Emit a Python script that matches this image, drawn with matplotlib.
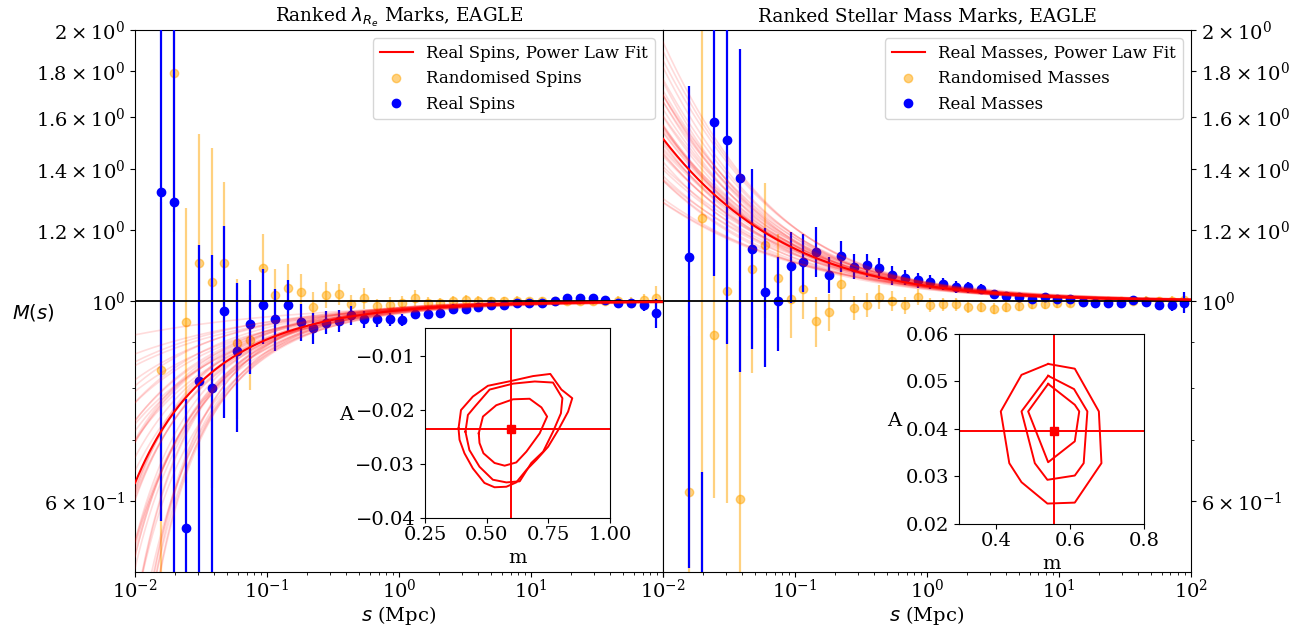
import numpy as np
import matplotlib

matplotlib.use("Agg")
import matplotlib.pyplot as plt
from matplotlib.lines import Line2D
from matplotlib.ticker import FixedLocator, NullFormatter

plt.rcParams["font.family"] = "serif"
plt.rcParams["font.serif"] = ["DejaVu Serif"]

# bin centres (Mpc)
s_bins = [0.01574, 0.01965, 0.02451, 0.03059, 0.03818, 0.04765, 0.05947, 0.07422,
          0.09262, 0.1156, 0.1443, 0.1800, 0.2247, 0.2804, 0.3499, 0.4367,
          0.5450, 0.6802, 0.8489, 1.059, 1.322, 1.650, 2.059, 2.570,
          3.207, 4.002, 4.995, 6.234, 7.780, 9.709, 12.12, 15.12,
          18.87, 23.55, 29.39, 36.68, 45.78, 57.13, 71.30, 88.98]

# ranked lambda_Re marks
spin_real = [1.320, 1.287, 0.559, 0.814, 0.800, 0.976, 0.881, 0.942,
             0.991, 0.956, 0.990, 0.947, 0.934, 0.946, 0.950, 0.964,
             0.954, 0.954, 0.954, 0.952, 0.968, 0.968, 0.971, 0.980,
             0.980, 0.985, 0.991, 0.991, 0.994, 0.994, 0.994, 0.999,
             1.007, 1.007, 1.007, 1.002, 0.996, 0.994, 0.989, 0.969]
spin_real_err = [0.75, 0.85, 0.22, 0.34, 0.325, 0.234, 0.165, 0.112,
                 0.095, 0.075, 0.064, 0.045, 0.037, 0.028, 0.027, 0.023,
                 0.020, 0.018, 0.016, 0.015, 0.014, 0.013, 0.012, 0.012,
                 0.011, 0.010, 0.010, 0.009, 0.009, 0.008, 0.008, 0.008,
                 0.008, 0.008, 0.008, 0.008, 0.009, 0.010, 0.014, 0.036]
spin_rand = [0.839, 1.792, 0.948, 1.102, 1.050, 1.102, 0.898, 0.906,
             1.089, 1.015, 1.033, 1.024, 0.985, 1.016, 1.017, 0.992,
             1.007, 0.987, 0.991, 0.996, 1.0085, 0.996, 0.994, 1.000,
             1.002, 1.000, 0.999, 1.000, 1.001, 0.999, 1.000, 1.001,
             1.000, 0.999, 1.000, 1.001, 1.000, 0.996, 1.002, 1.0085]
spin_rand_err = [0.45, 0.6, 0.32, 0.43, 0.43, 0.253, 0.159, 0.109,
                 0.098, 0.07, 0.066, 0.047, 0.038, 0.034, 0.027, 0.023,
                 0.028, 0.018, 0.02, 0.018, 0.02, 0.015, 0.015, 0.013,
                 0.013, 0.012, 0.012, 0.011, 0.011, 0.010, 0.010, 0.010,
                 0.010, 0.010, 0.011, 0.011, 0.012, 0.014, 0.016, 0.03]

# ranked stellar mass marks
mass_real = [1.120, 0.40, 1.580, 1.510, 1.370, 1.142, 1.024, 1.000,
             1.094, 1.105, 1.135, 1.069, 1.122, 1.092, 1.096, 1.087,
             1.068, 1.062, 1.055, 1.050, 1.045, 1.037, 1.036, 1.031,
             1.017, 1.013, 1.010, 1.004, 1.010, 1.006, 1.004, 0.998,
             0.996, 0.994, 0.996, 1.002, 0.998, 0.991, 0.990, 0.996]
mass_real_err = [0.615, 0.246, 0.514, 0.615, 0.535, 0.258, 0.18, 0.12,
                 0.10, 0.082, 0.072, 0.049, 0.044, 0.035, 0.033, 0.028,
                 0.025, 0.021, 0.02, 0.018, 0.016, 0.015, 0.014, 0.013,
                 0.012, 0.011, 0.010, 0.010, 0.009, 0.009, 0.009, 0.008,
                 0.008, 0.008, 0.008, 0.009, 0.010, 0.012, 0.014, 0.027]
mass_rand = [0.614, 1.238, 0.916, 1.026, 0.603, 1.085, 1.154, 1.060,
             1.004, 1.030, 0.950, 0.972, 1.044, 0.983, 0.990, 1.011,
             1.000, 0.989, 1.011, 0.990, 0.9915, 0.9915, 0.985, 0.9855,
             0.981, 0.985, 0.987, 0.9915, 0.9915, 0.994, 0.9957, 0.998,
             0.999, 1.000, 1.001, 1.000, 1.001, 0.999, 1.000, 1.002]
mass_rand_err = [0.3, 0.8, 0.312, 0.43, 0.45, 0.253, 0.197, 0.127,
                 0.094, 0.076, 0.06, 0.045, 0.043, 0.03, 0.03, 0.03,
                 0.025, 0.022, 0.02, 0.018, 0.017, 0.016, 0.015, 0.014,
                 0.014, 0.013, 0.012, 0.012, 0.011, 0.011, 0.010, 0.010,
                 0.010, 0.010, 0.010, 0.011, 0.011, 0.012, 0.013, 0.015]

# power law fit M(s) = 1 + A s^-m : best fit and posterior draws
spin_best = (-0.0235, 0.60)
spin_draw_m = [0.42, 0.45, 0.48, 0.50, 0.52, 0.54, 0.55, 0.57, 0.58, 0.60,
               0.61, 0.62, 0.63, 0.65, 0.66, 0.68, 0.70, 0.72, 0.74, 0.78,
               0.44, 0.47, 0.51, 0.53, 0.56, 0.59, 0.60, 0.62, 0.64, 0.67,
               0.69, 0.71, 0.73, 0.76, 0.80, 0.49, 0.55, 0.58, 0.63, 0.66,
               0.32, 0.38]
spin_draw_A = [-0.022, -0.026, -0.020, -0.030, -0.024, -0.019, -0.028, -0.022, -0.032, -0.025,
               -0.018, -0.027, -0.021, -0.024, -0.029, -0.017, -0.026, -0.020, -0.023, -0.018,
               -0.019, -0.031, -0.027, -0.017, -0.025, -0.020, -0.029, -0.023, -0.026, -0.021,
               -0.016, -0.024, -0.019, -0.021, -0.017, -0.024, -0.021, -0.027, -0.030, -0.023,
               -0.019, -0.022]
mass_best = (0.0396, 0.557)
mass_draw_m = [0.45, 0.48, 0.50, 0.52, 0.53, 0.54, 0.55, 0.56, 0.57, 0.58,
               0.59, 0.60, 0.61, 0.62, 0.63, 0.65, 0.47, 0.51, 0.53, 0.55,
               0.57, 0.58, 0.60, 0.62, 0.64, 0.49, 0.52, 0.56, 0.59, 0.61,
               0.54, 0.57, 0.50, 0.60, 0.66, 0.66, 0.64, 0.62, 0.46, 0.44]
mass_draw_A = [0.036, 0.045, 0.040, 0.033, 0.048, 0.038, 0.043, 0.035, 0.041, 0.046,
               0.037, 0.040, 0.034, 0.044, 0.038, 0.041, 0.042, 0.036, 0.044, 0.039,
               0.031, 0.048, 0.036, 0.040, 0.035, 0.050, 0.041, 0.046, 0.033, 0.043,
               0.030, 0.039, 0.047, 0.038, 0.036, 0.045, 0.047, 0.049, 0.036, 0.038]

# credible contours in (m, A)
spin_contours = [
    ([0.386, 0.396, 0.444, 0.505, 0.600, 0.688, 0.758, 0.803, 0.847, 0.830, 0.790,
      0.749, 0.702, 0.661, 0.620, 0.580, 0.532, 0.491, 0.444, 0.410, 0.390, 0.386],
     [-0.0234, -0.0200, -0.0175, -0.0155, -0.0146, -0.0137, -0.0133, -0.0162, -0.0178, -0.0203, -0.0237,
      -0.0268, -0.0292, -0.0311, -0.0334, -0.0342, -0.0343, -0.0335, -0.0308, -0.0280, -0.0255, -0.0234]),
    ([0.414, 0.424, 0.457, 0.512, 0.607, 0.695, 0.769, 0.807, 0.801, 0.769, 0.729,
      0.681, 0.634, 0.580, 0.525, 0.471, 0.430, 0.414],
     [-0.0240, -0.0209, -0.0191, -0.0162, -0.0151, -0.0147, -0.0149, -0.0178, -0.0206, -0.0240, -0.0277,
      -0.0298, -0.0332, -0.0334, -0.0329, -0.0305, -0.0274, -0.0240]),
    ([0.468, 0.485, 0.539, 0.607, 0.674, 0.722, 0.745, 0.715, 0.661, 0.620, 0.573,
      0.532, 0.487, 0.471, 0.468],
     [-0.0243, -0.0212, -0.0191, -0.0180, -0.0179, -0.0195, -0.0212, -0.0243, -0.0277, -0.0297, -0.0303,
      -0.0298, -0.0280, -0.0261, -0.0243]),
]
mass_contours = [
    ([0.541, 0.613, 0.678, 0.685, 0.613, 0.539, 0.469, 0.436, 0.413, 0.469, 0.541],
     [0.0537, 0.0527, 0.0437, 0.0328, 0.0245, 0.0243, 0.0288, 0.0328, 0.0437, 0.0514, 0.0537]),
    ([0.541, 0.611, 0.647, 0.637, 0.613, 0.539, 0.505, 0.469, 0.541],
     [0.0512, 0.0484, 0.0437, 0.0328, 0.0302, 0.0293, 0.0328, 0.0437, 0.0512]),
    ([0.541, 0.613, 0.625, 0.613, 0.541, 0.487, 0.541],
     [0.0495, 0.0451, 0.0437, 0.0374, 0.0330, 0.0437, 0.0495]),
]

ytick_vals = [0.6, 1.0, 1.2, 1.4, 1.6, 1.8, 2.0]
ytick_labels = [r"$\mathdefault{6\times10^{-1}}$", r"$\mathdefault{10^{0}}$",
                r"$\mathdefault{1.2\times10^{0}}$", r"$\mathdefault{1.4\times10^{0}}$",
                r"$\mathdefault{1.6\times10^{0}}$", r"$\mathdefault{1.8\times10^{0}}$",
                r"$\mathdefault{2\times10^{0}}$"]
yminor_vals = [0.7, 0.8, 0.9]


def power_law(s, A, m):
    return 1 + A * s ** (-m)


def draw_panel(ax, title, real, real_err, rand, rand_err, best, draw_A, draw_m, name):
    s_fine = np.logspace(-2, 2, 300)
    ax.errorbar(s_bins, rand, yerr=rand_err, fmt="o", color="orange", alpha=0.5,
                ms=6, elinewidth=1.6, capsize=0, zorder=2)
    ax.errorbar(s_bins, real, yerr=real_err, fmt="o", color="blue",
                ms=6, elinewidth=1.6, capsize=0, zorder=3)
    for A, m in zip(draw_A, draw_m):
        ax.plot(s_fine, power_law(s_fine, A, m), color="red", alpha=0.14, lw=1.2, zorder=4)
    ax.plot(s_fine, power_law(s_fine, *best), color="red", lw=1.5, zorder=5)
    ax.axhline(1.0, color="black", lw=1.3, zorder=4)
    ax.set_xscale("log")
    ax.set_yscale("log")
    ax.set_xlim(1e-2, 1e2)
    ax.set_ylim(0.5, 2.0)
    ax.yaxis.set_major_locator(FixedLocator(ytick_vals))
    ax.yaxis.set_minor_locator(FixedLocator(yminor_vals))
    ax.set_yticklabels(ytick_labels)
    ax.yaxis.set_minor_formatter(NullFormatter())
    ax.xaxis.set_major_locator(FixedLocator([1e-2, 1e-1, 1e0, 1e1, 1e2]))
    ax.xaxis.set_minor_locator(FixedLocator(
        [k * 10.0 ** e for e in range(-2, 2) for k in range(2, 10)]))
    ax.set_xlabel(r"$s$ (Mpc)", fontsize=14, labelpad=1)
    ax.set_title(title, fontsize=13.3)
    ax.tick_params(labelsize=14)
    ax.tick_params(axis="x", which="major", length=3.5, pad=1.5)
    ax.tick_params(axis="x", which="minor", length=2)
    handles = [
        Line2D([], [], color="red", lw=1.5),
        Line2D([], [], color="orange", alpha=0.5, marker="o", ls="none", ms=6),
        Line2D([], [], color="blue", marker="o", ls="none", ms=6),
    ]
    labels = [f"Real {name}, Power Law Fit", f"Randomised {name}", f"Real {name}"]
    ax.legend(handles, labels, loc="upper right", fontsize=12)


def draw_inset(rect, contours, best, xlim, ylim, xticks, yticks, xfmt, yfmt):
    ins = fig.add_axes(rect)
    for cm, cA in contours:
        ins.plot(cm, cA, color="red", lw=1.4)
    ins.axvline(best[1], color="red", lw=1.4)
    ins.axhline(best[0], color="red", lw=1.4)
    ins.plot(best[1], best[0], marker="s", color="red", ms=6)
    ins.set_xlim(*xlim)
    ins.set_ylim(*ylim)
    ins.set_xticks(xticks)
    ins.set_xticklabels([xfmt.format(v) for v in xticks])
    ins.set_yticks(yticks)
    ins.set_yticklabels([yfmt.format(v).replace("-", "\u2212") for v in yticks])
    ins.tick_params(labelsize=14)
    ins.tick_params(axis="x", pad=2)
    ins.set_xlabel("m", fontsize=14, labelpad=4)
    ins.set_ylabel("A", fontsize=14, rotation=0, ha="right", va="center", labelpad=2)
    return ins


fig = plt.figure(figsize=(13.04, 6.27), dpi=100)
ax1 = fig.add_axes([0.1035, 0.0877, 0.4049, 0.8644])
ax2 = fig.add_axes([0.5084, 0.0877, 0.4049, 0.8644])

draw_panel(ax1, r"Ranked $\lambda_{R_e}$ Marks, EAGLE", spin_real, spin_real_err,
           spin_rand, spin_rand_err, spin_best, spin_draw_A, spin_draw_m, "Spins")
draw_panel(ax2, "Ranked Stellar Mass Marks, EAGLE", mass_real, mass_real_err,
           mass_rand, mass_rand_err, mass_best, mass_draw_A, mass_draw_m, "Masses")

ax1.set_ylabel(r"$M(s)$", fontsize=14, rotation=0, ha="center", va="center")
ax1.yaxis.set_label_coords(-0.193, 0.478)
ax1.set_xticklabels([r"$\mathdefault{10^{-2}}$", r"$\mathdefault{10^{-1}}$",
                     r"$\mathdefault{10^{0}}$", r"$\mathdefault{10^{1}}$", ""])
ax2.yaxis.tick_right()
ax2.yaxis.set_ticks_position("right")

ins1 = draw_inset([0.3259, 0.1738, 0.1419, 0.303], spin_contours, spin_best,
                  (0.25, 1.0), (-0.04, -0.0048), [0.25, 0.5, 0.75, 1.0],
                  [-0.04, -0.03, -0.02, -0.01], "{:.2f}", "{:.2f}")
ins1.yaxis.set_label_coords(-0.39, 0.54)
ins2 = draw_inset([0.7354, 0.1643, 0.1419, 0.303], mass_contours, mass_best,
                  (0.3, 0.8), (0.02, 0.06), [0.4, 0.6, 0.8],
                  [0.02, 0.03, 0.04, 0.05, 0.06], "{:.1f}", "{:.2f}")
ins2.yaxis.set_label_coords(-0.31, 0.54)

fig.savefig("out.png", dpi=100)
